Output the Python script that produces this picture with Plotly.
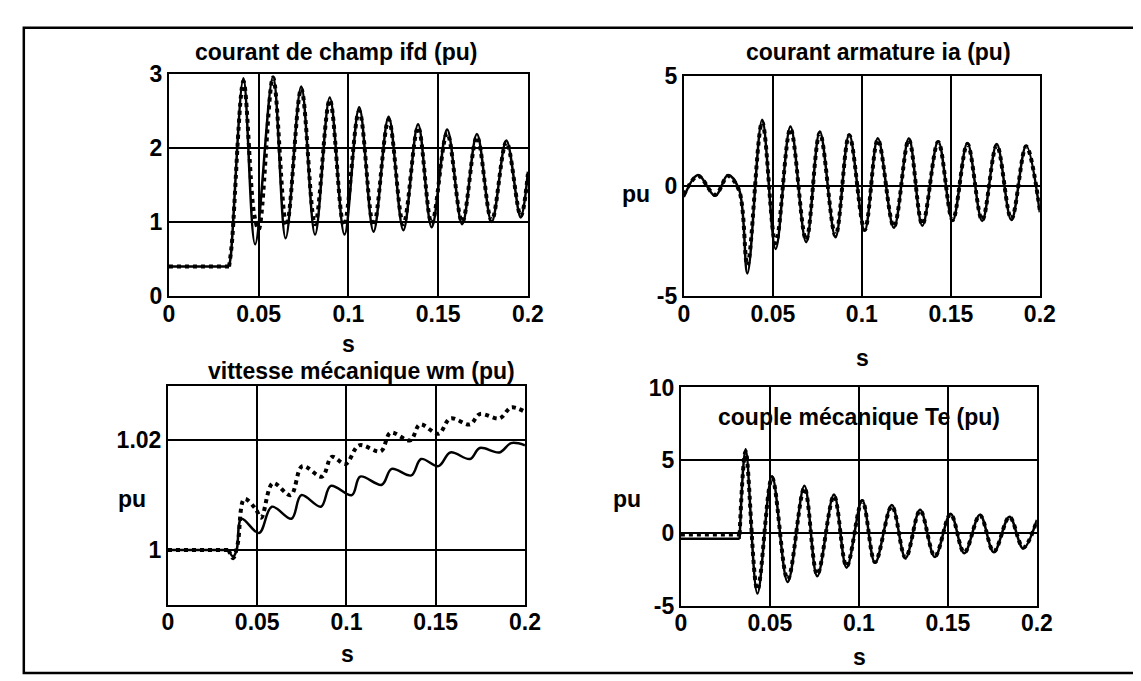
import plotly.graph_objects as go

W, H = 1141, 681

# ---------------- data ----------------
ifd_t = [0, 0.0335, 0.0345, 0.0415, 0.048, 0.058, 0.065, 0.0737, 0.0814, 0.0896, 0.0978,
         0.106, 0.114, 0.1224, 0.1306, 0.1388, 0.1464, 0.155, 0.1634, 0.1716, 0.1798,
         0.188, 0.196, 0.2]
ifd_sim = [0.4, 0.4, 0.55, 2.94, 0.7, 2.96, 0.78, 2.83, 0.83, 2.68, 0.83,
           2.55, 0.87, 2.42, 0.89, 2.32, 0.93, 2.25, 0.97, 2.19, 1.0,
           2.1, 1.06, 1.68]
ifd_t2 = [0, 0.0335, 0.035, 0.0415, 0.0475, 0.05, 0.058, 0.0655, 0.0737, 0.0814, 0.0896,
          0.0975, 0.106, 0.114, 0.1224, 0.1306, 0.1388, 0.1464, 0.155, 0.1634, 0.1716,
          0.1798, 0.188, 0.196, 0.2]
ifd_mes = [0.4, 0.4, 0.7, 2.9, 1.1, 0.9, 2.95, 0.95, 2.8, 0.97, 2.65,
           0.95, 2.5, 0.95, 2.38, 0.97, 2.28, 0.98, 2.2, 1.0, 2.15,
           1.02, 2.08, 1.08, 1.65]

ia_t = [0, 0.008, 0.0176, 0.0248, 0.031, 0.0357, 0.044, 0.0516, 0.0599, 0.0687, 0.0764,
        0.0852, 0.0929, 0.1016, 0.109, 0.118, 0.1264, 0.134, 0.1429, 0.151, 0.1593,
        0.1676, 0.1758, 0.184, 0.1923, 0.2]
ia_sim = [-0.5, 0.5, -0.45, 0.5, -0.15, -3.97, 3.0, -2.86, 2.7, -2.55, 2.47,
          -2.33, 2.34, -2.03, 2.16, -1.9, 2.16, -1.81, 2.03, -1.59, 1.95,
          -1.59, 1.9, -1.55, 1.82, -1.2]
ia_mes = [-0.4, 0.45, -0.4, 0.45, -0.2, -3.6, 2.9, -2.6, 2.6, -2.45, 2.4,
          -2.25, 2.3, -2.0, 2.1, -1.85, 2.1, -1.75, 2.0, -1.55, 1.9,
          -1.55, 1.85, -1.5, 1.8, -1.1]

wm_t = [0, 0.034, 0.0365, 0.0385, 0.0412, 0.051, 0.0582, 0.0692, 0.0747, 0.0857, 0.0912,
        0.103, 0.1077, 0.1198, 0.1253, 0.1363, 0.1418, 0.1516, 0.1582, 0.1692, 0.1747,
        0.1857, 0.1923, 0.2]
wm_sim = [1.0, 1.0, 0.9988, 1.0, 1.0057, 1.0031, 1.0079, 1.0057, 1.01, 1.0079, 1.0117,
          1.01, 1.0134, 1.0119, 1.0148, 1.0136, 1.0166, 1.0153, 1.0178, 1.0166, 1.0186,
          1.0178, 1.0195, 1.0191]
wm_t2 = [0, 0.034, 0.0365, 0.039, 0.0428, 0.0489, 0.0522, 0.0588, 0.0687, 0.0753, 0.0863,
         0.0918, 0.0995, 0.1071, 0.1192, 0.1247, 0.1357, 0.1412, 0.1516, 0.1582, 0.1692,
         0.1747, 0.1857, 0.1923, 0.2]
wm_mes = [1.0, 1.0, 0.9985, 1.001, 1.0093, 1.0076, 1.0059, 1.0122, 1.01, 1.0153, 1.0134,
          1.017, 1.0157, 1.0191, 1.018, 1.0214, 1.02, 1.0229, 1.0212, 1.024, 1.0229,
          1.0248, 1.024, 1.026, 1.0252]

te_t = [0, 0.033, 0.0364, 0.043, 0.0512, 0.06, 0.0694, 0.0766, 0.086, 0.0931, 0.1019,
        0.1091, 0.1185, 0.1262, 0.1344, 0.1427, 0.1515, 0.1592, 0.168, 0.1758, 0.1846,
        0.1923, 0.2]
te_sim = [-0.4, -0.4, 5.75, -4.16, 3.9, -3.37, 3.24, -2.97, 2.64, -2.38, 2.25,
          -2.05, 1.92, -1.72, 1.59, -1.65, 1.32, -1.39, 1.26, -1.32, 1.12,
          -1.06, 0.9]
te_mes = [-0.1, -0.1, 5.6, -3.9, 3.8, -3.2, 3.1, -2.85, 2.55, -2.3, 2.2,
          -2.0, 1.85, -1.7, 1.55, -1.6, 1.3, -1.35, 1.22, -1.28, 1.1,
          -1.0, 0.85]

x_ticks = [0, 0.05, 0.1, 0.15, 0.2]
x_ticktext = ["0", "0.05", "0.1", "0.15", "0.2"]

titles = ["courant de champ ifd (pu)", "courant armature ia (pu)",
          "vittesse mécanique wm (pu)", "couple mécanique Te (pu)"]

# ---------------- layout helpers ----------------
def px(x):
    return x / W

def py(y):
    return 1 - y / H

FONT = dict(family="Liberation Sans, Arial, sans-serif", size=23, color="black", weight="bold")

# pixel boxes (left, right, top, bottom)
boxes = [(158, 524, 55, 286), (683, 1046, 57, 286), (157, 521, 379, 607), (680, 1043, 381, 608)]

fig = go.Figure()

def add_pair(idx, t1, y1, t2, y2, step):
    ax = "" if idx == 1 else str(idx)
    xa, ya = "x" + ax, "y" + ax
    for t, y, dash, w in [(t1, y1, "solid", 2.5), (t2, y2, "dot", 4)]:
        if step:
            fig.add_trace(go.Scatter(x=t[:2], y=y[:2], mode="lines", xaxis=xa, yaxis=ya,
                                     line=dict(color="black", width=w, dash=dash),
                                     showlegend=False, hoverinfo="skip"))
            fig.add_trace(go.Scatter(x=t[1:], y=y[1:], mode="lines", xaxis=xa, yaxis=ya,
                                     line=dict(color="black", width=w, dash=dash, shape="spline",
                                               smoothing=1.0),
                                     showlegend=False, hoverinfo="skip"))
        else:
            fig.add_trace(go.Scatter(x=t, y=y, mode="lines", xaxis=xa, yaxis=ya,
                                     line=dict(color="black", width=w, dash=dash, shape="spline",
                                               smoothing=1.0),
                                     showlegend=False, hoverinfo="skip"))

add_pair(1, ifd_t, ifd_sim, ifd_t2, ifd_mes, True)
add_pair(2, ia_t, ia_sim, ia_t, ia_mes, False)
add_pair(3, wm_t, wm_sim, wm_t2, wm_mes, True)
add_pair(4, te_t, te_sim, te_t, te_mes, True)

yaxes_cfg = [
    dict(range=[0, 3], tickvals=[0, 1, 2, 3], ticktext=["0", "1", "2", "3"]),
    dict(range=[-5, 5], tickvals=[-5, 0, 5], ticktext=["-5", "0", "5"]),
    dict(range=[0.99, 1.03], tickvals=[1, 1.02], ticktext=["1", "1.02"]),
    dict(range=[-5, 10], tickvals=[-5, 0, 5, 10], ticktext=["-5", "0", "5", "10"]),
]

common = dict(showline=True, linecolor="black", linewidth=2, mirror=True,
              showgrid=True, gridcolor="black", gridwidth=1.5, zeroline=False,
              ticks="", tickfont=FONT, fixedrange=True)

layout = dict(width=W, height=H, margin=dict(l=0, r=0, t=0, b=0),
              paper_bgcolor="white", plot_bgcolor="white", showlegend=False)

for i, (l, r, t, b) in enumerate(boxes):
    n = "" if i == 0 else str(i + 1)
    layout["xaxis" + n] = dict(domain=[px(l), px(r)], range=[0, 0.2], tickvals=x_ticks,
                               ticktext=x_ticktext, anchor="y" + n, ticklabelstandoff=-4,
                               **common)
    layout["yaxis" + n] = dict(domain=[py(b), py(t)], anchor="x" + n, **yaxes_cfg[i], **common)

fig.update_layout(**layout)

def ann(text, x, y):
    fig.add_annotation(text=text, x=px(x), y=py(y), xref="paper", yref="paper",
                       xanchor="center", yanchor="middle", showarrow=False, font=FONT)

ann(titles[0], 328, 32)
ann(titles[1], 882, 32)
ann(titles[2], 354, 364)
ann(titles[3], 862, 412)
for (x, y) in [(341, 336), (865, 350), (340, 658), (862, 661)]:
    ann("s", x, y)
for (x, y) in [(634, 180), (120, 497), (625, 497)]:
    ann("pu", x, y)

# outer frame
fig.add_shape(type="rect", xref="paper", yref="paper", x0=px(10), x1=px(1145),
              y0=py(678), y1=py(7), line=dict(color="black", width=2.5), layer="below")

fig.write_html("out.html")
